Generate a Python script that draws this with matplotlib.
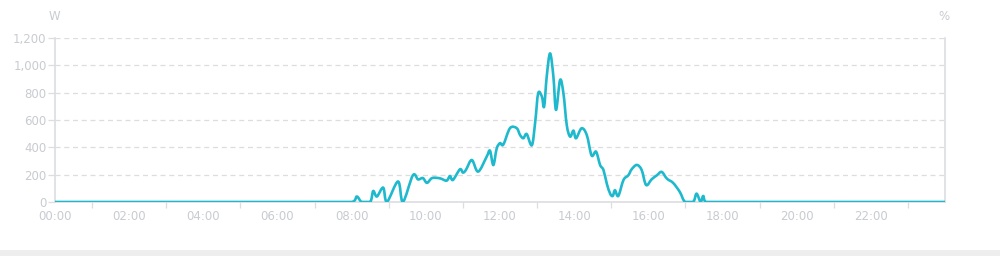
import numpy as np
import matplotlib.pyplot as plt
from matplotlib.patches import Rectangle, PathPatch
from matplotlib.path import Path

# time of day in hours, power in W
hours = [0.0, 8.0, 8.14, 8.27, 8.5, 8.58, 8.68, 8.85, 8.95, 9.25, 9.38,
         9.65, 9.79, 9.92, 10.03, 10.17, 10.38, 10.56, 10.65, 10.73, 10.92,
         11.0, 11.08, 11.24, 11.41, 11.64, 11.73, 11.82, 11.91, 12.0, 12.09,
         12.27, 12.45, 12.54, 12.63, 12.72, 12.86, 12.95, 13.03, 13.13, 13.19,
         13.26, 13.35, 13.44, 13.51, 13.62, 13.71, 13.8, 13.89, 13.98, 14.05,
         14.2, 14.34, 14.47, 14.59, 14.7, 14.79, 14.88, 14.97, 15.04, 15.1,
         15.19, 15.33, 15.46, 15.55, 15.69, 15.82, 15.94, 16.09, 16.23, 16.36,
         16.5, 16.67, 16.85, 16.99, 17.21, 17.3, 17.41, 17.48, 17.56, 24.0]
power = [0, 0, 40, 0, 0, 80, 40, 105, 0, 150, 0,
         195, 165, 175, 140, 175, 173, 156, 190, 161, 239,
         215, 234, 307, 222, 331, 375, 270, 390, 430, 420,
         540, 540, 490, 466, 497, 415, 587, 795, 770, 697,
         917, 1087, 917, 673, 892, 795, 563, 478, 522, 466,
         539, 490, 340, 368, 270, 234, 134, 61, 44, 86,
         44, 161, 195, 239, 271, 234, 124, 166, 195, 220,
         171, 139, 73, 0, 0, 61, 0, 44, 0, 0]

yticks = [0, 200, 400, 600, 800, 1000, 1200]
xlabels = ['00:00', '02:00', '04:00', '06:00', '08:00', '10:00',
           '12:00', '14:00', '16:00', '18:00', '20:00', '22:00']

grey = '#c8cbd0'
axisc = '#dcdde0'
linec = '#1fb9cd'


def smooth_path(xs, ys):
    # bezier through the points (like a smoothed line), control points clamped
    p = np.column_stack([xs, ys]).astype(float)
    n = len(p)
    verts = [p[0]]
    codes = [Path.MOVETO]
    for i in range(n - 1):
        a = p[i - 1] if i > 0 else p[i]
        b = p[i + 2] if i + 2 < n else p[i + 1]
        c1 = p[i] + (p[i + 1] - a) / 6
        c2 = p[i + 1] - (b - p[i]) / 6
        for c in (c1, c2):
            c[0] = min(max(c[0], p[i][0]), p[i + 1][0])
            c[1] = max(c[1], 0)
        verts += [c1, c2, p[i + 1]]
        codes += [Path.CURVE4] * 3
    return Path(verts, codes)


fig = plt.figure(figsize=(10, 2.56), dpi=100)
ax = fig.add_axes([0.055, 0.211, 0.89, 0.641])

ax.add_patch(PathPatch(smooth_path(hours, power), facecolor='none',
                       edgecolor=linec, lw=1.9, joinstyle='round', zorder=3))

ax.set_xlim(0, 24)
ax.set_ylim(0, 1200)
ax.set_yticks(yticks)
ax.set_yticklabels([f'{v:,}' for v in yticks])
ax.set_xticks(range(0, 24, 2))
ax.set_xticklabels(xlabels)
ax.set_xticks(range(1, 24, 2), minor=True)

for v in yticks[1:]:
    ax.axhline(v, color='#dddddd', lw=0.9, ls=(0, (4, 3)), zorder=1)

ax.spines['top'].set_visible(False)
for s in ['left', 'right', 'bottom']:
    ax.spines[s].set_color(axisc)
    ax.spines[s].set_linewidth(1.2)

ax.tick_params(axis='y', colors=grey, labelsize=8.5, length=5, width=0.9,
               color=axisc, pad=1)
ax.tick_params(axis='x', which='major', colors=grey, labelsize=8.5, length=0, pad=6)
ax.tick_params(axis='x', which='minor', length=4, width=0.9, color=axisc)

fig.text(0.054, 0.935, 'W', color=grey, fontsize=8.5, ha='center', va='center')
fig.text(0.944, 0.935, '%', color=grey, fontsize=8.5, ha='center', va='center')

fig.patches.append(Rectangle((0, 0), 1, 6 / 256, transform=fig.transFigure,
                             facecolor='#eeeeee', edgecolor='none'))

fig.savefig('out.png', dpi=100)
